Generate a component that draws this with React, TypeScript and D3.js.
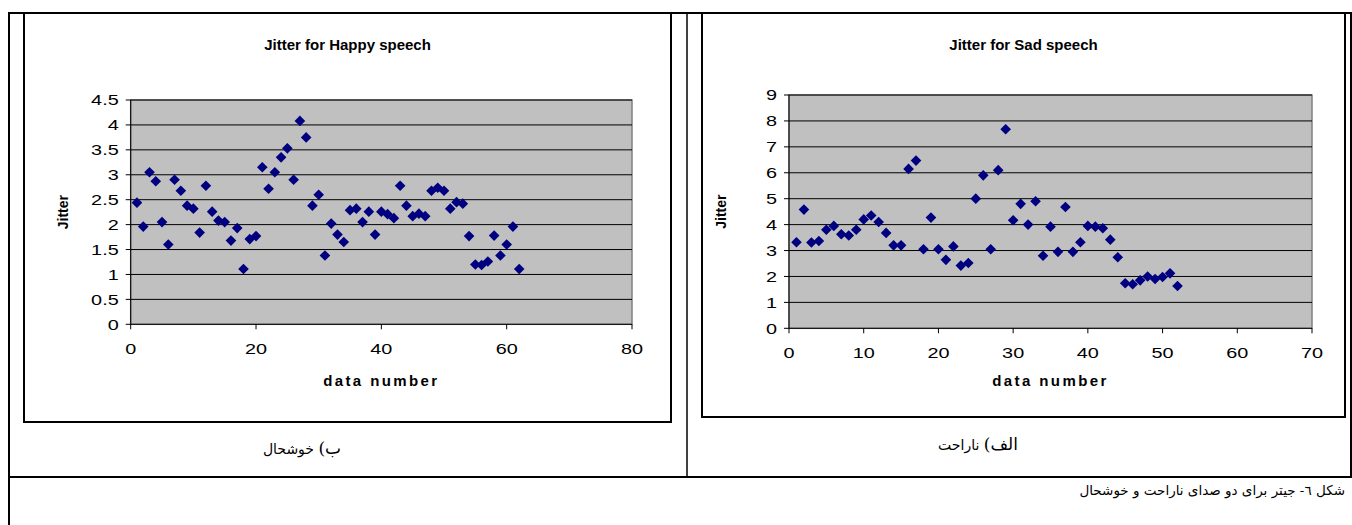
import React from "react";
import * as d3 from "d3";

const happyX = Array.from({ length: 62 }, (_, i) => i + 1);
const happyJitter = [
  2.44, 1.96, 3.05, 2.87, 2.05, 1.6, 2.9, 2.68, 2.38, 2.32,
  1.84, 2.78, 2.26, 2.08, 2.05, 1.68, 1.93, 1.11, 1.71, 1.77,
  3.15, 2.72, 3.05, 3.35, 3.53, 2.9, 4.08, 3.75, 2.38, 2.6,
  1.38, 2.02, 1.8, 1.65, 2.29, 2.32, 2.05, 2.26, 1.8, 2.26,
  2.21, 2.13, 2.78, 2.38, 2.17, 2.22, 2.17, 2.68, 2.74, 2.68,
  2.32, 2.45, 2.42, 1.77, 1.2, 1.19, 1.26, 1.78, 1.38, 1.6,
  1.96, 1.11,
];
const sadX = Array.from({ length: 52 }, (_, i) => i + 1);
const sadJitter = [
  3.32, 4.58, 3.31, 3.37, 3.8, 3.95, 3.63, 3.58, 3.8, 4.2,
  4.35, 4.1, 3.68, 3.2, 3.2, 6.15, 6.47, 3.05, 4.27, 3.05,
  2.64, 3.16, 2.42, 2.52, 5.0, 5.9, 3.05, 6.1, 7.68, 4.17,
  4.8, 4.0, 4.9, 2.8, 3.92, 2.95, 4.68, 2.95, 3.32, 3.95,
  3.92, 3.86, 3.42, 2.74, 1.74, 1.7, 1.85, 2.0, 1.9, 1.98,
  2.12, 1.63,
];
const happyXTicks = [0, 20, 40, 60, 80];
const happyYTicks = [0, 0.5, 1, 1.5, 2, 2.5, 3, 3.5, 4, 4.5];
const sadXTicks = [0, 10, 20, 30, 40, 50, 60, 70];
const sadYTicks = [0, 1, 2, 3, 4, 5, 6, 7, 8, 9];

const happyTitle = "Jitter for Happy speech";
const sadTitle = "Jitter for Sad speech";
const xLabel = "data number";
const yLabel = "Jitter";
const happyCaptionLetter = "ب";
const happyCaptionWord = "خوشحال";
const sadCaptionLetter = "الف";
const sadCaptionWord = "ناراحت";
const figCaption = "شکل ٦- جیتر برای دو صدای ناراحت و خوشحال";

const W = 1352;
const H = 525;
const FONT = "'Liberation Sans', Arial, sans-serif";
const PFONT = "'DejaVu Serif', 'DejaVu Sans', serif";

type ChartProps = {
  box: { x0: number; y0: number; x1: number; y1: number };
  plot: { x0: number; y0: number; x1: number; y1: number };
  xs: number[];
  ys: number[];
  xDomain: [number, number];
  yDomain: [number, number];
  xTicks: number[];
  yTicks: number[];
  title: string;
  xLabelOffset: number;
};

const SX = 1.28;

function Chart({ box, plot, xs, ys, xDomain, yDomain, xTicks, yTicks, title, xLabelOffset }: ChartProps) {
  const x = d3.scaleLinear().domain(xDomain).range([plot.x0, plot.x1]);
  const y = d3.scaleLinear().domain(yDomain).range([plot.y1, plot.y0]);
  const diamond = d3.symbol().type(d3.symbolDiamond2).size(72)();
  const fmt = (v: number) => String(v);
  return (
    <g>
      <rect x={box.x0} y={box.y0} width={box.x1 - box.x0} height={box.y1 - box.y0} fill="#fff" stroke="#000" strokeWidth={2} />
      <text x={(box.x0 + box.x1) / 2} y={50} textAnchor="middle" fontFamily={FONT} fontWeight="bold" fontSize={15}>
        {title}
      </text>
      <rect x={plot.x0} y={plot.y0} width={plot.x1 - plot.x0} height={plot.y1 - plot.y0} fill="#C0C0C0" stroke="#808080" strokeWidth={1.5} />
      {yTicks.filter((t) => t !== yDomain[0]).map((t) => (
        <line key={"g" + t} x1={plot.x0} x2={plot.x1} y1={y(t)} y2={y(t)} stroke="#000" strokeWidth={1} />
      ))}
      <line x1={plot.x0} x2={plot.x0} y1={plot.y0} y2={plot.y1} stroke="#000" strokeWidth={1} />
      <line x1={plot.x0} x2={plot.x1} y1={plot.y1} y2={plot.y1} stroke="#000" strokeWidth={1} />
      {yTicks.map((t) => (
        <g key={"y" + t}>
          <line x1={plot.x0 - 5} x2={plot.x0} y1={y(t)} y2={y(t)} stroke="#000" />
          <text
            transform={`translate(${plot.x0 - 12},${y(t)}) scale(${SX},1)`}
            dy="0.35em"
            textAnchor="end"
            fontFamily={FONT}
            fontSize={15.5}
          >
            {fmt(t)}
          </text>
        </g>
      ))}
      {xTicks.map((t) => (
        <g key={"x" + t}>
          <line x1={x(t)} x2={x(t)} y1={plot.y1} y2={plot.y1 + 5} stroke="#000" />
          <text
            transform={`translate(${x(t)},${plot.y1 + 24}) scale(${SX},1)`}
            dy="0.35em"
            textAnchor="middle"
            fontFamily={FONT}
            fontSize={15.5}
          >
            {fmt(t)}
          </text>
        </g>
      ))}
      {xs.map((xv, i) => (
        <path key={"p" + i} d={diamond} transform={`translate(${x(xv)},${y(ys[i])})`} fill="#000080" />
      ))}
      <text
        transform={`translate(${plot.x0 - 68},${(plot.y0 + plot.y1) / 2}) rotate(-90)`}
        textAnchor="middle"
        dy="0.35em"
        fontFamily={FONT}
        fontWeight="bold"
        fontSize={14}
      >
        {yLabel}
      </text>
      <text
        x={(plot.x0 + plot.x1) / 2}
        y={plot.y1 + xLabelOffset}
        dy="0.35em"
        textAnchor="middle"
        fontFamily={FONT}
        fontWeight="bold"
        fontSize={15}
        letterSpacing={2.4}
      >
        {xLabel}
      </text>
    </g>
  );
}

function SubCaption({ cx, cy, letter, word }: { cx: number; cy: number; letter: string; word: string }) {
  return (
    <text x={cx} y={cy} dy="0.35em" textAnchor="middle" fontFamily={PFONT} direction="rtl">
      <tspan fontSize={17}>{letter + ")"}</tspan>
      <tspan fontSize={14}>{" " + word}</tspan>
    </text>
  );
}

export default function App() {
  const lineY = 477;
  return (
    <svg width={W} height={H} style={{ position: "absolute", left: 0, top: 0 }}>
      <rect x={0} y={0} width={W} height={H} fill="#fff" />
      <line x1={9} x2={W} y1={13} y2={13} stroke="#000" strokeWidth={2} />
      <line x1={9} x2={9} y1={12} y2={H} stroke="#000" strokeWidth={2} />
      <line x1={687} x2={687} y1={12} y2={lineY} stroke="#000" strokeWidth={1.5} />
      <line x1={1351} x2={1351} y1={12} y2={lineY} stroke="#000" strokeWidth={2} />
      <line x1={9} x2={W} y1={lineY} y2={lineY} stroke="#000" strokeWidth={2} />
      <Chart
        box={{ x0: 24, y0: 13, x1: 671, y1: 422 }}
        plot={{ x0: 130.7, y0: 100, x1: 632, y1: 324.3 }}
        xs={happyX}
        ys={happyJitter}
        xDomain={[0, 80]}
        yDomain={[0, 4.5]}
        xTicks={happyXTicks}
        yTicks={happyYTicks}
        title={happyTitle}
        xLabelOffset={56}
      />
      <Chart
        box={{ x0: 702, y0: 13, x1: 1345, y1: 417 }}
        plot={{ x0: 789, y0: 95, x1: 1312, y1: 328.3 }}
        xs={sadX}
        ys={sadJitter}
        xDomain={[0, 70]}
        yDomain={[0, 9]}
        xTicks={sadXTicks}
        yTicks={sadYTicks}
        title={sadTitle}
        xLabelOffset={52}
      />
      <SubCaption cx={302} cy={448} letter={happyCaptionLetter} word={happyCaptionWord} />
      <SubCaption cx={978} cy={444} letter={sadCaptionLetter} word={sadCaptionWord} />
      <text x={1345} y={490} dy="0.35em" textAnchor="start" fontFamily={PFONT} fontSize={13.5} direction="rtl">
        {figCaption}
      </text>
    </svg>
  );
}
